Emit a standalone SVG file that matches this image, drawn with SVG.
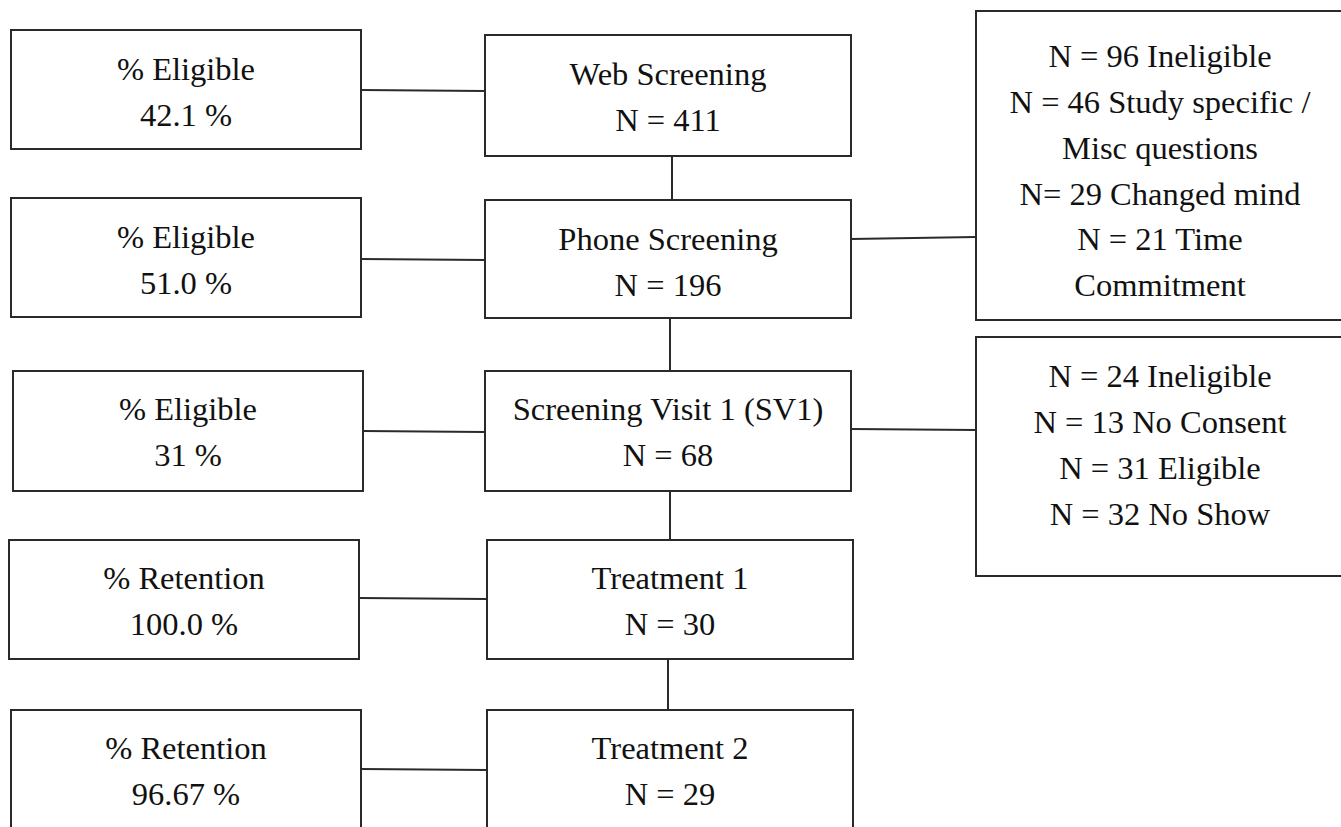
<svg xmlns="http://www.w3.org/2000/svg" width="1341" height="827" viewBox="0 0 1341 827">
<style>
  .box { fill: #ffffff; stroke: #2a2a2a; stroke-width: 2; }
  .con { fill: none; stroke: #2a2a2a; stroke-width: 2; }
  text { font-family: "Liberation Serif", "Times New Roman", serif; font-size: 32.5px; fill: #111111; text-anchor: middle; }
</style>
<rect x="0" y="0" width="1341" height="827" fill="#ffffff"/>
<g id="connectors">
  <path class="con" d="M361,90 L485,91"/>
  <path class="con" d="M361,259 L485,260"/>
  <path class="con" d="M363,431 L485,432"/>
  <path class="con" d="M359,598 L487,599"/>
  <path class="con" d="M361,769 L487,770"/>
  <path class="con" d="M672,156 L672,200"/>
  <path class="con" d="M670,318 L670,371"/>
  <path class="con" d="M670,491 L670,540"/>
  <path class="con" d="M668,659 L668,710"/>
  <path class="con" d="M851,239 L976,237"/>
  <path class="con" d="M851,429 L976,430"/>
</g>
<g id="left1">
  <rect class="box" x="11" y="30" width="350" height="119"/>
  <text x="186" y="80">% Eligible</text>
  <text x="186" y="126">42.1 %</text>
</g>
<g id="left2">
  <rect class="box" x="11" y="198" width="350" height="119"/>
  <text x="186" y="248">% Eligible</text>
  <text x="186" y="294">51.0 %</text>
</g>
<g id="left3">
  <rect class="box" x="13" y="371" width="350" height="120"/>
  <text x="188" y="420">% Eligible</text>
  <text x="188" y="466">31 %</text>
</g>
<g id="left4">
  <rect class="box" x="9" y="540" width="350" height="119"/>
  <text x="184" y="589">% Retention</text>
  <text x="184" y="635">100.0 %</text>
</g>
<g id="left5">
  <rect class="box" x="11" y="710" width="350" height="130"/>
  <text x="186" y="759">% Retention</text>
  <text x="186" y="805">96.67 %</text>
</g>
<g id="web">
  <rect class="box" x="485" y="35" width="366" height="121"/>
  <text x="668" y="85">Web Screening</text>
  <text x="668" y="131">N = 411</text>
</g>
<g id="phone">
  <rect class="box" x="485" y="200" width="366" height="118"/>
  <text x="668" y="250">Phone Screening</text>
  <text x="668" y="296">N = 196</text>
</g>
<g id="sv1">
  <rect class="box" x="485" y="371" width="366" height="120"/>
  <text x="668" y="420">Screening Visit 1 (SV1)</text>
  <text x="668" y="466">N = 68</text>
</g>
<g id="treatment1">
  <rect class="box" x="487" y="540" width="366" height="119"/>
  <text x="670" y="589">Treatment 1</text>
  <text x="670" y="635">N = 30</text>
</g>
<g id="treatment2">
  <rect class="box" x="487" y="710" width="366" height="130"/>
  <text x="670" y="759">Treatment 2</text>
  <text x="670" y="805">N = 29</text>
</g>
<g id="right1">
  <rect class="box" x="976" y="11" width="370" height="309"/>
  <text x="1160" y="67">N = 96 Ineligible</text>
  <text x="1160" y="113">N = 46 Study specific /</text>
  <text x="1160" y="159">Misc questions</text>
  <text x="1160" y="205">N= 29 Changed mind</text>
  <text x="1160" y="250">N = 21 Time</text>
  <text x="1160" y="296">Commitment</text>
</g>
<g id="right2">
  <rect class="box" x="976" y="337" width="370" height="239"/>
  <text x="1160" y="387">N = 24 Ineligible</text>
  <text x="1160" y="433">N = 13 No Consent</text>
  <text x="1160" y="479">N = 31 Eligible</text>
  <text x="1160" y="525">N = 32 No Show</text>
</g>
</svg>
